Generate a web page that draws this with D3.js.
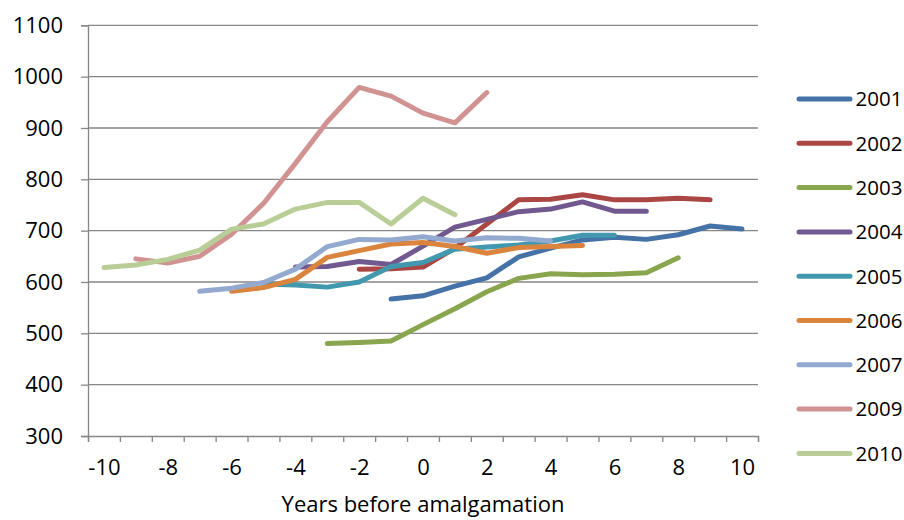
<!DOCTYPE html>
<html>
<head>
<meta charset="utf-8">
<script src="https://cdn.jsdelivr.net/npm/d3@7"></script>
<style>
  html, body { margin: 0; padding: 0; background: #fff; }
  svg { display: block; font-family: "Open Sans", sans-serif; }
</style>
</head>
<body>
<svg id="chart" width="904" height="520"></svg>
<script>
// ---- Data ----
const years = [-10,-9,-8,-7,-6,-5,-4,-3,-2,-1,0,1,2,3,4,5,6,7,8,9,10];
const xTickLabels = [-10,-8,-6,-4,-2,0,2,4,6,8,10];
const yTickLabels = [300,400,500,600,700,800,900,1000,1100];
const seriesNames = ["2001","2002","2003","2004","2005","2006","2007","2009","2010"];
const seriesColors = ["#4572A7","#AA4643","#89A54E","#71588F","#4198AF","#DB843D","#93A9CF","#D19392","#B9CD96"];

// each series: first year and values from there on
const s2001 = { start: -1, values: [567,573,592,608,649,666,682,687,683,692,709,703] };
const s2002 = { start: -2, values: [625,626,629,666,713,760,761,770,760,760,763,760] };
const s2003 = { start: -3, values: [480,482,485,517,548,581,607,616,614,615,618,647] };
const s2004 = { start: -4, values: [629,630,640,634,670,707,722,737,742,756,738,738] };
const s2005 = { start: -5, values: [596,594,590,600,630,638,664,668,672,680,691,691] };
const s2006 = { start: -6, values: [582,589,605,648,661,674,677,669,656,667,669,671] };
const s2007 = { start: -7, values: [582,588,599,625,669,683,682,688,680,686,685,680] };
const s2009 = { start: -9, values: [645,637,650,693,753,831,912,979,962,929,910,969] };
const s2010 = { start: -10, values: [628,633,644,662,703,713,742,755,755,713,763,731] };
const seriesData = [s2001,s2002,s2003,s2004,s2005,s2006,s2007,s2009,s2010];

// ---- Chart ----
const svg = d3.select("#chart");
const plotLeft = 88, plotRight = 758, plotTop = 25.3, plotBottom = 436;
const gridColor = "#868686";
const fmt = d => String(d);

const x = d3.scaleLinear().domain([years[0]-0.5, years[years.length-1]+0.5]).range([plotLeft, plotRight]);
const y = d3.scaleLinear().domain([300, 1100]).range([plotBottom, plotTop]);

// gridlines
svg.append("g").selectAll("line").data(yTickLabels.slice(1)).join("line")
  .attr("x1", plotLeft).attr("x2", plotRight)
  .attr("y1", d => y(d)).attr("y2", d => y(d))
  .attr("stroke", gridColor).attr("stroke-width", 1.3);

// y axis
const yAxis = d3.axisLeft(y).tickValues(yTickLabels).tickSize(7).tickPadding(18).tickFormat(fmt);
const gy = svg.append("g").attr("transform", `translate(${plotLeft},0)`).call(yAxis);
gy.select(".domain").attr("stroke", gridColor).attr("stroke-width", 1.3);
gy.selectAll(".tick line").attr("stroke", gridColor).attr("stroke-width", 1.3);
gy.selectAll(".tick text").attr("font-size", 22).attr("fill", "#000").attr("font-family", "Open Sans");

// x axis: boundary ticks
const boundaries = years.map(d => d - 0.5).concat([years[years.length-1] + 0.5]);
const xAxisTicks = d3.axisBottom(x).tickValues(boundaries).tickSize(6).tickFormat("");
const gx = svg.append("g").attr("transform", `translate(0,${plotBottom})`).call(xAxisTicks);
gx.select(".domain").attr("stroke", gridColor).attr("stroke-width", 1.3);
gx.selectAll(".tick line").attr("stroke", gridColor).attr("stroke-width", 1.3);

const xAxisLabels = d3.axisBottom(x).tickValues(xTickLabels).tickSize(0).tickPadding(23).tickFormat(fmt);
const gxl = svg.append("g").attr("transform", `translate(0,${plotBottom})`).call(xAxisLabels);
gxl.select(".domain").remove();
gxl.selectAll(".tick text").attr("font-size", 22).attr("fill", "#000").attr("font-family", "Open Sans");

// axis title
svg.append("text").attr("x", (plotLeft + plotRight) / 2).attr("y", 512)
  .attr("text-anchor", "middle").attr("font-size", 22).attr("fill", "#000")
  .text("Years before amalgamation");

// lines
const line = d3.line().x(d => x(d[0])).y(d => y(d[1]));
seriesData.forEach((s, i) => {
  const pts = s.values.map((v, k) => [s.start + k, v]);
  svg.append("path").datum(pts)
    .attr("d", line)
    .attr("fill", "none")
    .attr("stroke", seriesColors[i])
    .attr("stroke-width", 5)
    .attr("stroke-linecap", "round")
    .attr("stroke-linejoin", "round");
});

// legend
const legend = svg.append("g");
seriesNames.forEach((name, i) => {
  const ly = 99 + i * 44.3;
  legend.append("line").attr("x1", 799).attr("x2", 850).attr("y1", ly).attr("y2", ly)
    .attr("stroke", seriesColors[i]).attr("stroke-width", 5).attr("stroke-linecap", "round");
  legend.append("text").attr("x", 855.5).attr("y", ly).attr("dy", "0.36em")
    .attr("font-size", 20.5).attr("fill", "#000").text(name);
});
</script>
</body>
</html>
